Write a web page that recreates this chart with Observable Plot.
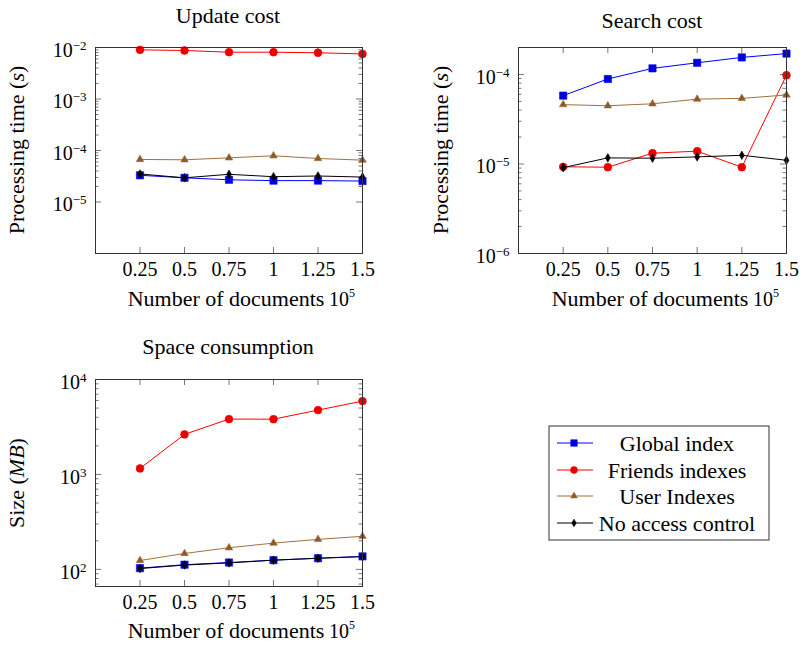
<!DOCTYPE html>
<html><head><meta charset="utf-8">
<script src="https://cdn.jsdelivr.net/npm/d3@7"></script>
<script src="https://cdn.jsdelivr.net/npm/@observablehq/plot@0.6"></script>
<style>
body{margin:0;background:#fff;}
#root{position:relative;width:800px;height:649px;overflow:hidden;font-family:"Liberation Serif","DejaVu Serif","Times New Roman",serif;color:#000;}
.abs{position:absolute;white-space:nowrap;font-size:22px;line-height:22px;}
.ctr{transform:translateX(-50%);}
.rot{transform:translate(-50%,-50%) rotate(-90deg);}
.ten{font-size:20px;line-height:20px;}
.sup{font-size:12px;line-height:0;position:relative;top:-9px;}
svg{overflow:visible;}
</style></head><body><div id="root"></div>
<script>
// ---- data ----
const docs = [0.25, 0.5, 0.75, 1, 1.25, 1.5];
const seriesNames = ["Global index", "Friends indexes", "User Indexes", "No access control"];

const updateGlobal  = [3.3e-5, 2.95e-5, 2.7e-5, 2.6e-5, 2.6e-5, 2.55e-5];
const updateFriends = [9.0e-3, 8.75e-3, 8.1e-3, 8.1e-3, 7.9e-3, 7.5e-3];
const updateUser    = [6.7e-5, 6.6e-5, 7.2e-5, 7.9e-5, 7.0e-5, 6.5e-5];
const updateNoAC    = [3.5e-5, 2.95e-5, 3.45e-5, 3.1e-5, 3.2e-5, 3.05e-5];

const searchGlobal  = [5.8e-5, 8.9e-5, 1.17e-4, 1.35e-4, 1.55e-4, 1.71e-4];
const searchFriends = [9.3e-6, 9.2e-6, 1.32e-5, 1.39e-5, 9.2e-6, 9.8e-5];
const searchUser    = [4.6e-5, 4.47e-5, 4.7e-5, 5.3e-5, 5.4e-5, 5.9e-5];
const searchNoAC    = [9.1e-6, 1.17e-5, 1.16e-5, 1.2e-5, 1.25e-5, 1.1e-5];

const spaceGlobal  = [103, 112, 118, 125, 131, 137];
const spaceFriends = [1157, 2640, 3830, 3820, 4760, 5920];
const spaceUser    = [124, 147, 169, 189, 207, 223];
const spaceNoAC    = [102, 111, 117, 125, 131, 136];

const updateTicks = [1e-5, 1e-4, 1e-3, 1e-2];
const searchTicks = [1e-6, 1e-5, 1e-4];
const spaceTicks  = [1e2, 1e3, 1e4];

// ---- styles ----
const styles = [
  {line: "#0000ff", fill: "#0000d8", symbol: "square",   r: 4.1},
  {line: "#ff0000", fill: "#e80000", symbol: "circle",   r: 3.9},
  {line: "#a0703c", fill: "#8c5a2a", symbol: "triangle", r: 2.8},
  {line: "#000000", fill: "#000000", symbol: "diamond",  r: 2.6}
];
const FONT = "'Liberation Serif','DejaVu Serif','Times New Roman',serif";
const root = document.getElementById("root");

function minorTicks(domain, from) {
  const out = [];
  for (let e = Math.floor(Math.log10(from)); e <= Math.ceil(Math.log10(domain[1])); e++) {
    for (let k = 2; k <= 9; k++) {
      const v = k * Math.pow(10, e);
      if (v >= from && v <= domain[1] * 1.0001) out.push(v);
    }
  }
  return out;
}

function drawChart({values, yDomain, majors, minorFrom, left, top, ml, mr, mt, fh}) {
  const width = 380;
  const fw = width - ml - mr;
  const minors = minorTicks(yDomain, minorFrom);
  const tc = "#777";
  const marks = [
    Plot.tickY(minors, {y: d => d, insetRight: fw - 3.5, stroke: tc}),
    Plot.tickY(minors, {y: d => d, insetLeft: fw - 3.5, stroke: tc}),
    Plot.tickY(majors, {y: d => d, insetRight: fw - 6, stroke: tc}),
    Plot.tickY(majors, {y: d => d, insetLeft: fw - 6, stroke: tc}),
    Plot.tickX(docs, {x: d => d, insetBottom: fh - 6, stroke: tc}),
    Plot.tickX(docs, {x: d => d, insetTop: fh - 6, stroke: tc})
  ];
  seriesNames.forEach((s, i) => {
    const rows = docs.map((x, j) => ({series: s, x, y: values[i][j]}));
    const st = styles[i];
    marks.push(Plot.line(rows, {x: "x", y: "y", stroke: st.line, strokeWidth: 1}));
    marks.push(Plot.dot(rows, {x: "x", y: "y", symbol: st.symbol, r: st.r, fill: st.fill, stroke: st.line, strokeWidth: 0.6}));
  });
  marks.push(Plot.frame({stroke: "#333", strokeWidth: 1}));
  marks.push(Plot.axisX({ticks: docs, tickSize: 0, tickPadding: 8, tickFormat: d => String(d), label: null, fontSize: 20, fontFamily: FONT}));
  marks.push(Plot.axisY({ticks: majors, tickSize: 0, tickPadding: 9, dy: 3, label: null, fontSize: 20, fontFamily: FONT,
    tickFormat: d => "10^" + String(Math.round(Math.log10(d))).replace("-", "\u2212")}));
  const svg = Plot.plot({
    width, height: mt + fh + 42,
    marginLeft: ml, marginRight: mr, marginTop: mt, marginBottom: 42,
    x: {domain: [0, 1.5]},
    y: {type: "log", domain: yDomain},
    style: {fontFamily: FONT, fontSize: "20px", color: "#000", background: "transparent", overflow: "visible"},
    marks
  });
  svg.querySelectorAll("text").forEach(t => {
    const s = t.textContent;
    if (s.startsWith("10^")) {
      t.textContent = "10";
      const ts = document.createElementNS("http://www.w3.org/2000/svg", "tspan");
      ts.setAttribute("dy", "-0.55em");
      ts.setAttribute("font-size", "13");
      ts.textContent = s.slice(3);
      t.appendChild(ts);
    }
  });
  svg.style.position = "absolute";
  svg.style.left = left + "px";
  svg.style.top = top + "px";
  root.appendChild(svg);
}

function label(html, x, y, cls) {
  const d = document.createElement("div");
  d.className = "abs " + (cls || "");
  d.style.left = x + "px";
  d.style.top = y + "px";
  d.innerHTML = html;
  root.appendChild(d);
}

drawChart({values: [updateGlobal, updateFriends, updateUser, updateNoAC], yDomain: [1e-6, 1e-2],
  majors: updateTicks, minorFrom: 1e-5, left: 0, top: 0, ml: 95, mr: 18, mt: 47, fh: 206});
drawChart({values: [searchGlobal, searchFriends, searchUser, searchNoAC], yDomain: [1e-6, 2e-4],
  majors: searchTicks, minorFrom: 1e-6, left: 420, top: 0, ml: 98, mr: 14, mt: 47, fh: 206});
drawChart({values: [spaceGlobal, spaceFriends, spaceUser, spaceNoAC], yDomain: [66, 1e4],
  majors: spaceTicks, minorFrom: 66, left: 0, top: 330, ml: 95, mr: 18, mt: 49, fh: 207});

// titles
label("Update cost", 228, 5, "ctr");
label("Search cost", 652, 10, "ctr");
label("Space consumption", 228, 336, "ctr");
// y labels
label("Processing time (<i>s</i>)", 17, 150, "rot");
label("Processing time (<i>s</i>)", 441, 150, "rot");
label("Size (<i>MB</i>)", 17, 483, "rot");
// x labels
label("Number of documents", 226, 288, "ctr");
label("Number of documents", 650, 288, "ctr");
label("Number of documents", 226, 620, "ctr");
label("10<span class='sup'>5</span>", 329, 289, "ten");
label("10<span class='sup'>5</span>", 753, 289, "ten");
label("10<span class='sup'>5</span>", 329, 621, "ten");

// legend
const leg = d3.create("svg").attr("width", 222).attr("height", 116)
  .style("position", "absolute").style("left", "548px").style("top", "425px");
leg.append("rect").attr("x", 1).attr("y", 1).attr("width", 220).attr("height", 114)
  .attr("fill", "#fff").attr("stroke", "#333");
const symMap = {square: d3.symbolSquare, circle: d3.symbolCircle, triangle: d3.symbolTriangle, diamond: d3.symbolDiamond};
const rowY = [18, 45, 71, 98];
seriesNames.forEach((s, i) => {
  const st = styles[i];
  const g = leg.append("g").attr("transform", `translate(0,${rowY[i]})`);
  g.append("line").attr("x1", 9).attr("x2", 45).attr("stroke", st.line).attr("stroke-width", 1);
  g.append("path").attr("transform", "translate(26,0)")
    .attr("d", d3.symbol(symMap[st.symbol], Math.PI * st.r * st.r * 0.8)())
    .attr("fill", st.fill).attr("stroke", st.line).attr("stroke-width", 0.6);
  g.append("text").attr("x", 129).attr("dy", "0.35em").attr("text-anchor", "middle")
    .style("font-family", FONT).attr("font-size", 22).text(s);
});
root.appendChild(leg.node());
</script></body></html>
